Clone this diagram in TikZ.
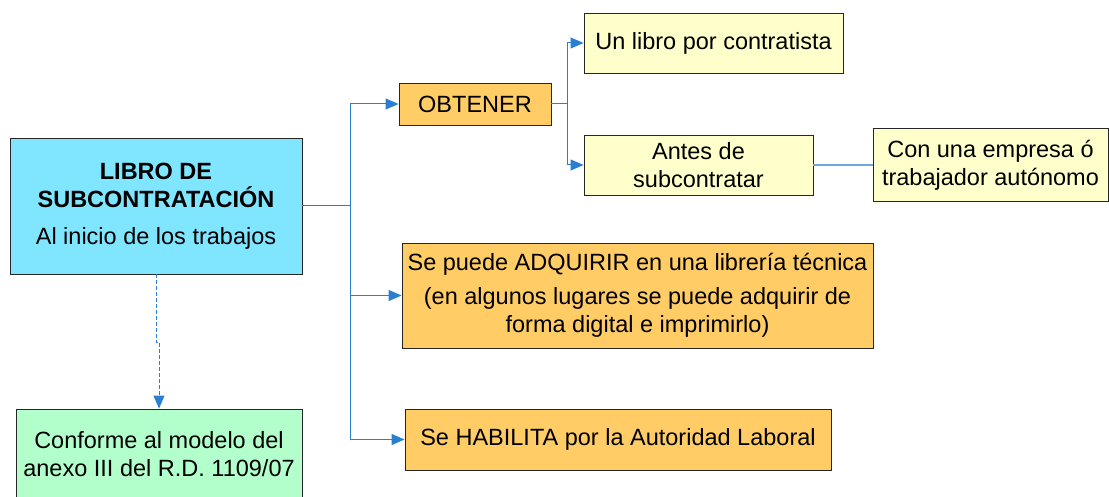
\documentclass[tikz,border=0pt]{standalone}
\usepackage{fontspec}
\setmainfont{Liberation Sans}
\usetikzlibrary{arrows.meta}
\definecolor{cyanf}{HTML}{80E6FF}
\definecolor{orangef}{HTML}{FFCC66}
\definecolor{yellowf}{HTML}{FFFFCC}
\definecolor{greenf}{HTML}{B3FFCC}
\definecolor{linkc}{HTML}{2B7FD0}
\definecolor{linkl}{HTML}{6FA8DC}
\begin{document}
\begin{tikzpicture}[x=1pt,y=-1pt,
  font=\fontsize{23.5}{28}\selectfont,
  box/.style={draw=black!85, line width=0.9pt, align=center, inner sep=0pt},
  conn/.style={draw=linkc, line width=1pt},
  arr/.style={conn, -{Triangle[length=13pt,width=11pt]}},
  plain/.style={draw=linkl, line width=1.2pt}]
\useasboundingbox (0,0) rectangle (1109,497);

\node[box, fill=cyanf, minimum width=292pt, minimum height=136pt] (main) at (156,206)
  {\textbf{LIBRO DE}\\\textbf{SUBCONTRATACIÓN}\\[9pt]Al inicio de los trabajos};
\node[box, fill=orangef, minimum width=152pt, minimum height=42pt] (obt) at (475,104) {OBTENER};
\node[box, fill=yellowf, minimum width=259pt, minimum height=60pt] (libro) at (713.5,43) {Un libro por contratista};
\node[box, fill=yellowf, minimum width=229pt, minimum height=60pt] (antes) at (698.5,165) {Antes de\\subcontratar};
\node[box, fill=yellowf, minimum width=235pt, minimum height=73pt] (con) at (990.5,165) {Con una empresa ó\\trabajador autónomo};
\node[box, fill=orangef, minimum width=471pt, minimum height=105pt] (adq) at (637.5,295.5)
  {Se puede ADQUIRIR en una librería técnica\\[6pt](en algunos lugares se puede adquirir de\\forma digital e imprimirlo)};
\node[box, fill=orangef, minimum width=426pt, minimum height=61pt] (hab) at (618,439.5) {Se HABILITA por la Autoridad Laboral};
\node[box, fill=greenf, minimum width=286pt, minimum height=90pt] (conf) at (159,454)
  {Conforme al modelo del\\anexo III del R.D. 1109/07};

\draw[arr] (main.east) -- ++(48,0) |- (obt.west);
\draw[arr] (main.east) -- ++(48,0) |- (adq.west);
\draw[arr] (main.east) -- ++(48,0) |- (hab.west);
\draw[arr] (obt.east) -- ++(16,0) |- (libro.west);
\draw[arr] (obt.east) -- ++(16,0) |- (antes.west);
\draw[plain] (antes.east) -- (con.west);
\draw[arr, dash pattern=on 4pt off 2pt] (main.south) -- ++(0,68) -| (conf.north);
\end{tikzpicture}
\end{document}
